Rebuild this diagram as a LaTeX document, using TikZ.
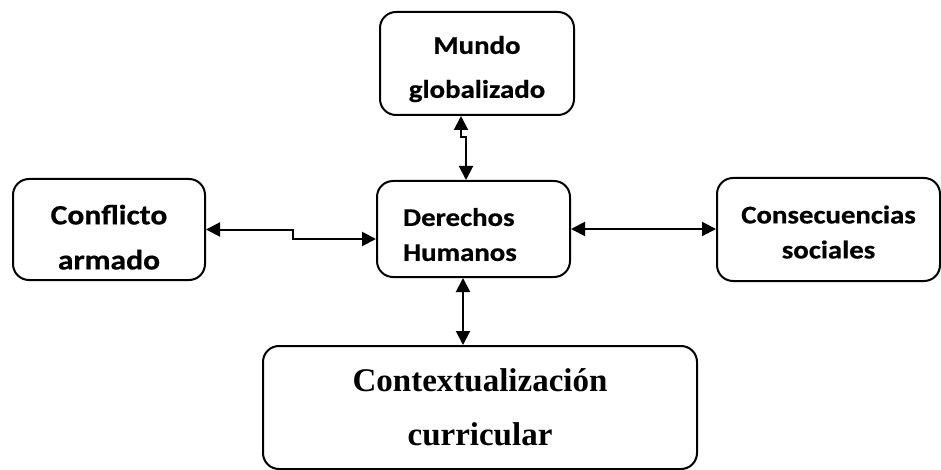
\documentclass[tikz,border=0pt]{standalone}
\usepackage{fontspec}
\newfontfamily\boxfont[FakeStretch=1.13, BoldFeatures={FakeBold=0.6}]{Carlito}
\newfontfamily\curfont{Liberation Serif}
\usetikzlibrary{
  arrows.meta,
  positioning
}
% invisible strut to push the text block down
\newcommand{\topgap}[1]{\rule{0pt}{#1}}
\tikzset{
  % Rounded concept boxes
  conceptnode/.style={
    rectangle,
    rounded corners=16pt,
    draw=black,
    line width=2pt,
    align=center,
    inner sep=0pt,
    font=\boxfont\bfseries\fontsize{25.5}{35}\selectfont
  },
  % Large curriculum box
  curnode/.style={
    conceptnode,
    font=\curfont\bfseries\fontsize{33}{54}\selectfont
  },
  % Two-headed link
  biflow/.style={
    {Triangle[length=14pt,width=14pt]}-{Triangle[length=14pt,width=14pt]},
    line width=2pt,
    black
  }
}
\begin{document}
\begin{tikzpicture}[x=1pt, y=-1pt]

\useasboundingbox (0,0) rectangle (941,470);

%% === Boxes ===
\node[conceptnode, minimum width=194pt, minimum height=103pt] (mundo) at (477, 63.5)
  {\topgap{29pt}Mundo\\[9pt]globalizado};
\node[conceptnode, minimum width=192pt, minimum height=101pt,
      font=\boxfont\bfseries\fontsize{28}{45}\selectfont] (conflicto) at (109, 229.5)
  {\topgap{35pt}Conflicto\\armado};
\node[conceptnode, align=left, text width=141pt, inner xsep=26pt,
      minimum height=96pt] (derechos) at (473.5, 229)
  {\topgap{29pt}Derechos\\Humanos};
\node[conceptnode, minimum width=223pt, minimum height=103pt] (consecuencias) at (828.5, 229.5)
  {\topgap{23pt}Consecuencias\\sociales};
\node[curnode, minimum width=434pt, minimum height=123pt] (contexto) at (480, 407.5)
  {Contextualizaci\'on\\curricular};

%% === Links ===
\draw[biflow] ([xshift=-16pt]mundo.south) -- ++(0, 21) -- ++(5, 0)
  -- ([xshift=-7.5pt]derechos.north);
\draw[biflow] (conflicto.east) -- ++(87, 0) |- ([yshift=-10pt]derechos.west);
\draw[biflow] (derechos.east) -- (derechos.east -| consecuencias.west);
\draw[biflow] ([xshift=-10.5pt]derechos.south) -- ([xshift=-10.5pt]derechos.south |- contexto.north);

\end{tikzpicture}
\end{document}
